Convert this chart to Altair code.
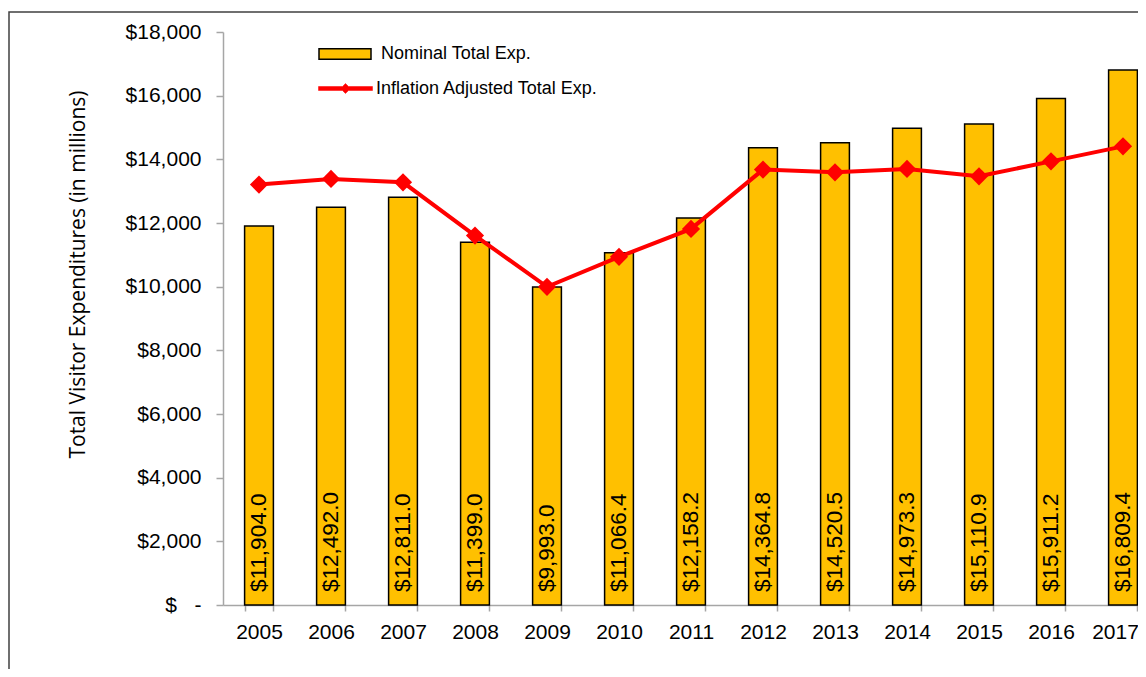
import altair as alt
import pandas as pd

years = ["2005", "2006", "2007", "2008", "2009", "2010", "2011",
         "2012", "2013", "2014", "2015", "2016", "2017"]
nominal = [11904.0, 12492.0, 12811.0, 11399.0, 9993.0, 11066.4, 12158.2,
           14364.8, 14520.5, 14973.3, 15110.9, 15911.2, 16809.4]
adjusted = [13206, 13385, 13278, 11605, 9995, 10936, 11815,
            13677, 13592, 13699, 13466, 13937, 14408]
y_ticks = [0, 2000, 4000, 6000, 8000, 10000, 12000, 14000, 16000, 18000]
series_names = ["Nominal Total Exp.", "Inflation Adjusted Total Exp."]

df = pd.DataFrame({"year": years, "nominal": nominal, "adjusted": adjusted})
df["label"] = ["$" + f"{v:,.1f}" for v in nominal]
df["zero"] = 0
df["s1"] = series_names[0]
df["s2"] = series_names[1]

FONT = "Liberation Sans"
GRAY = "#A6A6A6"

xscale = alt.Scale(paddingInner=0.6, paddingOuter=0.3)
xaxis = alt.Axis(title=None, labelAngle=0, labelFont=FONT, labelFontSize=21,
                 labelColor="black", labelPadding=10, tickBand="extent",
                 labelOffset={"expr": "datum.value == '2017' ? -8 : 0"},
                 tickSize=6, tickColor=GRAY, tickWidth=1.5,
                 domainColor=GRAY, domainWidth=1.5, grid=False)
yscale = alt.Scale(domain=[0, 18000], nice=False)
ytitle = "Total  Visitor Expenditures (in millions)"
yaxis = alt.Axis(values=y_ticks, grid=False,
                 labelExpr="datum.value == 0 ? '$\u00a0\u00a0\u00a0-' : '$' + format(datum.value, ',')",
                 labelFont=FONT, labelFontSize=21, labelColor="black",
                 labelPadding=15, tickSize=7, tickColor=GRAY, tickWidth=1.5,
                 domainColor=GRAY, domainWidth=1.5,
                 titleFont="Open Sans", titleFontSize=21, titleFontWeight="normal",
                 titleColor="black", titleAngle=270, titleX=-145, titleY=242,
                 titleAlign="center", titleBaseline="middle")

X = alt.X("year:N", scale=xscale, axis=xaxis)

border = alt.Chart(pd.DataFrame({"a": [0]})).mark_rect(
    fillOpacity=0, stroke="#404040", strokeWidth=1.5
).encode(x=alt.value(-214), x2=alt.value(1500), y=alt.value(-20), y2=alt.value(1500))

bar_path = "M-1,-0.2H1V0.2H-1Z"
line_path = ("M-1,-0.074H-0.111L0,-0.185L0.111,-0.074H1V0.074H0.111"
             "L0,0.185L-0.111,0.074H-1Z")

bars = alt.Chart(df).mark_bar(stroke="black", strokeWidth=1.5).encode(
    x=X,
    y=alt.Y("nominal:Q", scale=yscale, axis=yaxis, title=ytitle),
    fill=alt.Fill("s1:N", scale=alt.Scale(domain=[series_names[0]], range=["#FFC000"]),
                  legend=alt.Legend(title=None, orient="none", legendX=95, legendY=-5,
                                    symbolType=bar_path, symbolSize=2704,
                                    symbolStrokeColor="black", symbolStrokeWidth=1.5,
                                    labelFont=FONT, labelFontSize=18, labelColor="black",
                                    labelOffset=9, labelLimit=400, padding=0)),
)

labels = alt.Chart(df).mark_text(angle=270, align="left", baseline="middle", dx=13,
                                 font=FONT, fontSize=22.5, color="black").encode(
    x=X,
    y=alt.Y("zero:Q", scale=yscale, axis=yaxis, title=ytitle),
    text="label:N",
)

line = alt.Chart(df).mark_line(strokeWidth=4).encode(
    x=X,
    y=alt.Y("adjusted:Q", scale=yscale, axis=yaxis, title=ytitle),
    stroke=alt.Stroke("s2:N", scale=alt.Scale(domain=[series_names[1]], range=["#FF0000"]),
                      legend=alt.Legend(title=None, orient="none", legendX=95, legendY=29,
                                        symbolType=line_path, symbolSize=2916,
                                        symbolFillColor="#FF0000", symbolStrokeColor="#FF0000",
                                        symbolStrokeWidth=0.5,
                                        labelFont=FONT, labelFontSize=18, labelColor="black",
                                        labelOffset=3, labelLimit=400, padding=0)),
)

points = alt.Chart(df).mark_point(shape="diamond", filled=True, size=330, color="#FF0000",
                                  opacity=1).encode(
    x=X,
    y=alt.Y("adjusted:Q", scale=yscale, axis=yaxis, title=ytitle),
)

chart = alt.layer(border, bars, labels, line, points).resolve_legend(
    fill="independent", stroke="independent"
).properties(
    width=936, height=573,
    autosize=alt.AutoSizeParams(type="none"),
    padding={"left": 215, "top": 24, "right": -21, "bottom": 64},
).configure_view(stroke=None)

chart.save("out.html", embed_options={"renderer": "svg", "actions": False})
